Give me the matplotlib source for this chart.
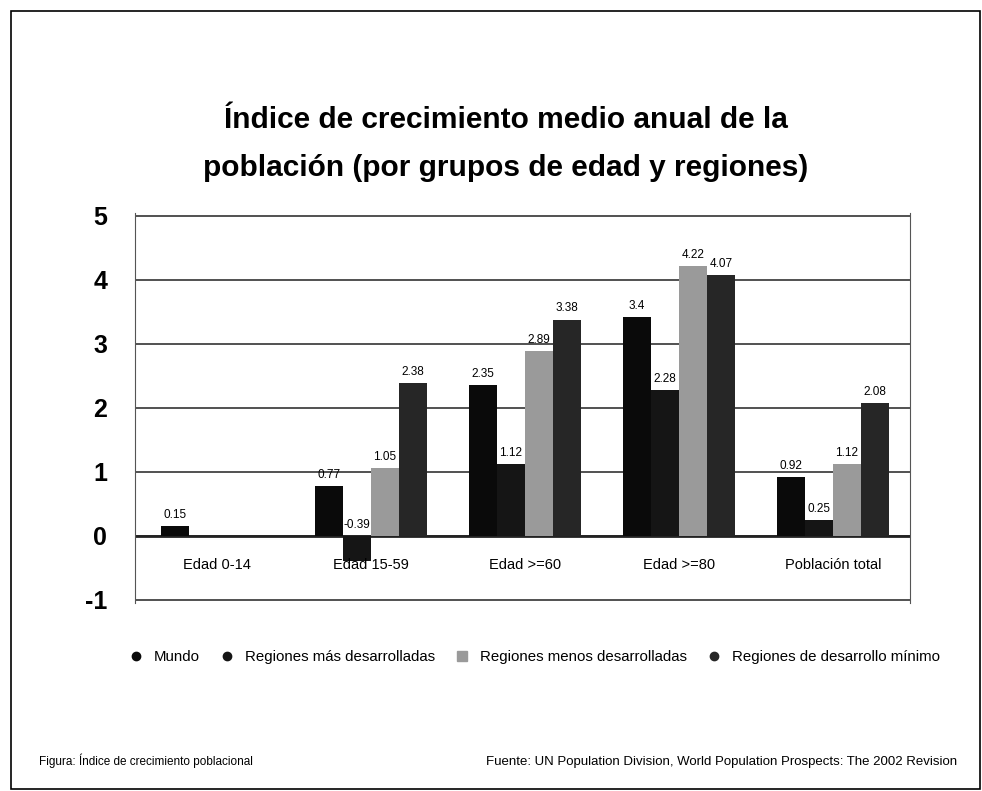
import numpy as np
import matplotlib
matplotlib.use("Agg")
from matplotlib import pyplot as plt
from matplotlib.lines import Line2D
from matplotlib.patches import Rectangle

plt.rcParams['font.family'] = ['Liberation Sans', 'DejaVu Sans']

categorias = ['Edad 0-14', 'Edad 15-59', 'Edad >=60', 'Edad >=80', 'Población total']
series = ['Mundo', 'Regiones más desarrolladas', 'Regiones menos desarrolladas',
          'Regiones de desarrollo mínimo']
mundo = [0.15, 0.77, 2.35, 3.42, 0.92]
mas_desarrolladas = [None, -0.39, 1.12, 2.28, 0.25]
menos_desarrolladas = [None, 1.05, 2.89, 4.22, 1.12]
desarrollo_minimo = [None, 2.38, 3.38, 4.07, 2.08]
etiquetas = [['0.15', '0.77', '2.35', '3.4', '0.92'],
             [None, '-0.39', '1.12', '2.28', '0.25'],
             [None, '1.05', '2.89', '4.22', '1.12'],
             [None, '2.38', '3.38', '4.07', '2.08']]
colores = ['#0a0a0a', '#151515', '#9a9a9a', '#262626']

fig = plt.figure(figsize=(9.82, 7.91), dpi=100)
ax = fig.add_axes([0.1375, 0.238, 0.789, 0.493])

x = np.arange(len(categorias))
ancho = 0.182
datos = [mundo, mas_desarrolladas, menos_desarrolladas, desarrollo_minimo]
for i, serie in enumerate(datos):
    pos = x + (i - 1.5) * ancho
    for j, v in enumerate(serie):
        if v is None:
            continue
        ax.bar(pos[j], v, ancho, color=colores[i], zorder=3)
        lab = etiquetas[i][j]
        yy = v + 0.08 if v > 0 else 0.08
        ax.text(pos[j], yy, lab, ha='center', va='bottom', fontsize=8.5, zorder=4)

for j, c in enumerate(categorias):
    ax.text(x[j], -0.35, c, ha='center', va='top', fontsize=10.5, zorder=5)

ax.set_xlim(-0.53, 4.5)
ax.set_ylim(-1.05, 5.05)
ax.set_yticks(range(-1, 6))
ax.set_yticklabels([str(t) for t in range(-1, 6)], fontsize=18, fontweight='bold')
ax.set_xticks([])
ax.tick_params(axis='y', length=0, pad=20)
for t in range(-1, 6):
    ax.axhline(t, color='#333333', lw=1.2, zorder=1)
ax.axhline(0, color='#222222', lw=2, zorder=2)
for s in ['top', 'bottom']:
    ax.spines[s].set_visible(False)
ax.spines['left'].set_color('#555555')
ax.spines['right'].set_color('#555555')

fig.text(0.515, 0.818, 'Índice de crecimiento medio anual de la\npoblación (por grupos de edad y regiones)',
         ha='center', va='center', fontsize=21.5, fontweight='bold', linespacing=1.9)

handles = [Line2D([], [], marker='o', ls='', color=colores[0], markersize=6),
           Line2D([], [], marker='o', ls='', color=colores[1], markersize=6),
           Line2D([], [], marker='s', ls='', color=colores[2], markersize=7),
           Line2D([], [], marker='o', ls='', color=colores[3], markersize=6)]
fig.legend(handles, series, loc='center', bbox_to_anchor=(0.54, 0.169), ncol=4,
           frameon=False, fontsize=10.8, handletextpad=0.2, columnspacing=0.8)

fig.text(0.04, 0.033, 'Figura: Índice de crecimiento poblacional', fontsize=8.5)
fig.text(0.975, 0.033, 'Fuente: UN Population Division, World Population Prospects: The 2002 Revision',
         fontsize=9.5, ha='right')

fig.patches.append(Rectangle((0.011, 0.002), 0.987, 0.984, transform=fig.transFigure,
                             fill=False, edgecolor='black', lw=1.2))

fig.savefig('out.png', dpi=100)
